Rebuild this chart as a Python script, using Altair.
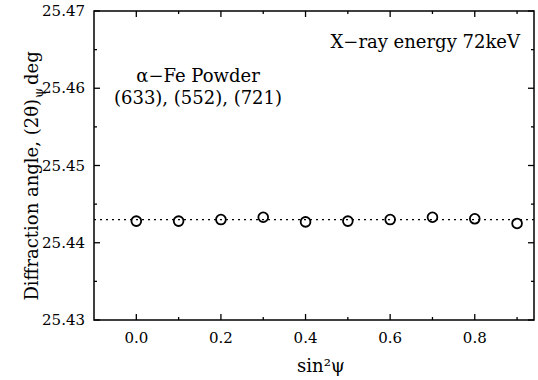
import altair as alt
import pandas as pd

# ---- data ----
sin2psi = [0.0, 0.1, 0.2, 0.3, 0.4, 0.5, 0.6, 0.7, 0.8, 0.9]
two_theta = [25.4428, 25.4428, 25.4430, 25.4433, 25.4427,
             25.4428, 25.4430, 25.4433, 25.4431, 25.4425]
fit_value = [25.4430]

x_domain = [-0.1, 0.94]
y_domain = [25.43, 25.47]
x_major = [0.0, 0.2, 0.4, 0.6, 0.8]
x_minor = [0.1, 0.3, 0.5, 0.7, 0.9]
y_major = [25.43, 25.44, 25.45, 25.46, 25.47]
y_minor = [25.435, 25.445, 25.455, 25.465]

x_title = ["sin²ψ"]
y_title_main = ["Diffraction angle, (2θ)"]
y_title_sub = ["ψ"]
y_title_end = ["deg"]
note_energy = ["X−ray energy 72keV"]
note_sample_1 = ["α−Fe Powder"]
note_sample_2 = ["(633), (552), (721)"]

FONT = "DejaVu Serif"
W, H = 440, 309
MAJ, MIN = 6, 3

xs = alt.Scale(domain=x_domain, nice=False, zero=False)
ys = alt.Scale(domain=y_domain, nice=False, zero=False)


def X(field):
    return alt.X(field, type="quantitative", scale=xs, axis=None)


def Y(field):
    return alt.Y(field, type="quantitative", scale=ys, axis=None)


df = pd.DataFrame({"s": sin2psi, "a": two_theta})

points = alt.Chart(df).mark_point(
    shape="circle", filled=False, size=95, strokeWidth=1.8, color="black", opacity=1
).encode(x=X("s"), y=Y("a"))

rule = alt.Chart(pd.DataFrame({"f": fit_value})).mark_rule(
    color="black", strokeDash=[2, 4], strokeWidth=1.4
).encode(y=Y("f"))


def x_ticks(values, centre, length):
    return alt.Chart(pd.DataFrame({"xtick": values})).mark_tick(
        color="black", orient="vertical", size=length, thickness=1.3, opacity=1
    ).encode(x=X("xtick"), y=alt.value(centre))


def y_ticks(values, centre, length):
    return alt.Chart(pd.DataFrame({"ytick": values})).mark_tick(
        color="black", orient="horizontal", size=length, thickness=1.3, opacity=1
    ).encode(y=Y("ytick"), x=alt.value(centre))


# inward-pointing ticks on all four sides of the frame
tick_layers = [
    x_ticks(x_major, H - MAJ / 2, MAJ), x_ticks(x_minor, H - MIN / 2, MIN),
    x_ticks(x_major, MAJ / 2, MAJ), x_ticks(x_minor, MIN / 2, MIN),
    y_ticks(y_major, MAJ / 2, MAJ), y_ticks(y_minor, MIN / 2, MIN),
    y_ticks(y_major, W - MAJ / 2, MAJ), y_ticks(y_minor, W - MIN / 2, MIN),
]

# tick labels, placed through the scales
x_labels = alt.Chart(pd.DataFrame({"xv": x_major})).mark_text(
    font=FONT, fontSize=15, color="black", align="center", baseline="top"
).encode(x=X("xv"), y=alt.value(H + 11), text=alt.Text("xv:Q", format=".1f"))

y_labels = alt.Chart(pd.DataFrame({"yv": y_major})).mark_text(
    font=FONT, fontSize=15, color="black", align="right", baseline="middle"
).encode(y=Y("yv"), x=alt.value(-9), text=alt.Text("yv:Q", format=".2f"))


def text_layer(txt, x, y, size=18, align="left", angle=0, dx=0, dy=0):
    mk = dict(font=FONT, fontSize=size, color="black", align=align,
              baseline="alphabetic", dx=dx, dy=dy)
    if angle:
        mk["angle"] = angle
    return alt.Chart(pd.DataFrame({"t": txt})).mark_text(**mk).encode(
        text="t:N", x=alt.value(x), y=alt.value(y))


P = 88
texts = [
    text_layer(x_title, 227, H + 52, align="center"),
    text_layer(note_energy, 426, 37, align="right"),
    text_layer(note_sample_1, 104, 71, align="center"),
    text_layer(note_sample_2, 104, 93, align="center"),
    text_layer(y_title_main, -56, P, align="right", angle=270),
    text_layer(y_title_sub, -56, P, size=13, align="left", angle=270, dx=1, dy=5),
    text_layer(y_title_end, -56, P, align="left", angle=270, dx=14),
]

chart = alt.layer(
    rule, points, x_labels, y_labels, *texts, *tick_layers
).properties(
    width=W, height=H,
    padding={"left": 94, "top": 11, "right": 4, "bottom": 60},
    autosize=alt.AutoSizeParams(type="none"),
    background="white",
).configure_view(stroke="black", strokeWidth=1.5)

chart.save("out.html", embed_options={"renderer": "svg", "actions": False})
